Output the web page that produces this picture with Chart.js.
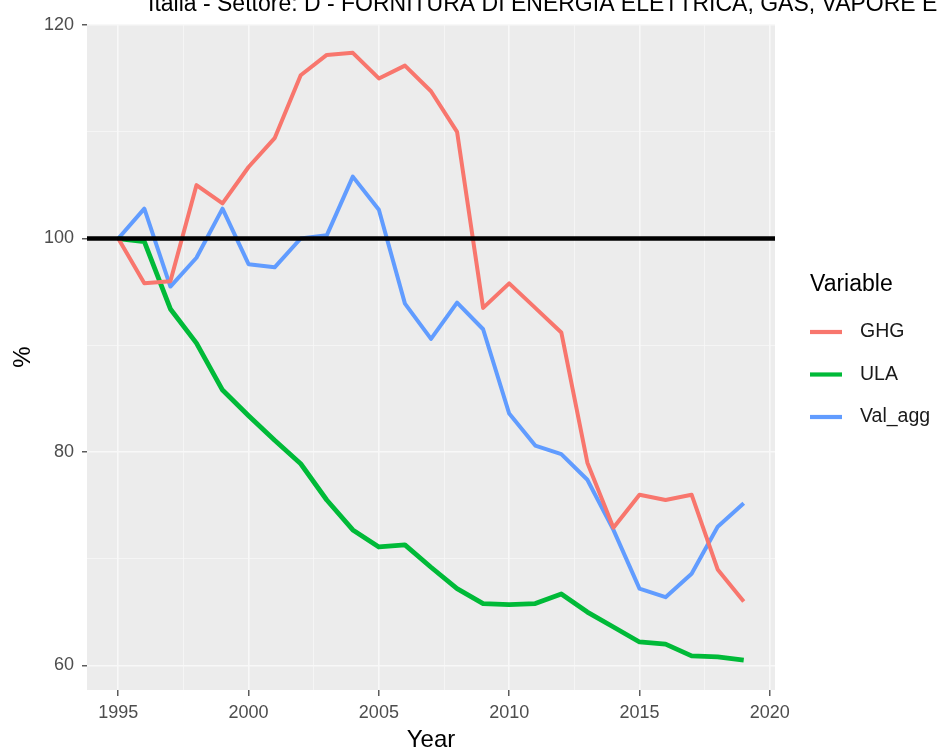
<!DOCTYPE html>
<html>
<head>
<meta charset="utf-8">
<script src="https://cdn.jsdelivr.net/npm/chart.js@4/dist/chart.umd.min.js"></script>
<style>
  html, body { margin: 0; padding: 0; background: #fff; overflow: hidden; }
  #wrap { position: relative; width: 937px; height: 756px; }
</style>
</head>
<body>
<div id="wrap"><canvas id="chart" width="937" height="756"></canvas></div>
<script>
const chartTitle = "Italia - Settore: D - FORNITURA DI ENERGIA ELETTRICA, GAS, VAPORE E ARIA CONDIZIONATA";

const years = [1995, 1996, 1997, 1998, 1999, 2000, 2001, 2002, 2003, 2004, 2005, 2006,
               2007, 2008, 2009, 2010, 2011, 2012, 2013, 2014, 2015, 2016, 2017, 2018, 2019];

// index 1995 = 100
const ghg = [100, 95.8, 96.0, 105.0, 103.3, 106.7, 109.4, 115.3, 117.2, 117.4, 115.0, 116.2,
             113.8, 110.0, 93.5, 95.8, 93.5, 91.2, 79.0, 72.9, 76.0, 75.5, 76.0, 69.0, 66.0];
const ula = [100, 99.7, 93.4, 90.2, 85.8, 83.4, 81.1, 78.9, 75.5, 72.7, 71.1, 71.3,
             69.2, 67.2, 65.8, 65.7, 65.8, 66.7, 65.0, 63.6, 62.2, 62.0, 60.9, 60.8, 60.5];
const valAgg = [100, 102.8, 95.5, 98.2, 102.8, 97.6, 97.3, 100.0, 100.3, 105.8, 102.7, 93.9,
                90.6, 94.0, 91.5, 83.6, 80.6, 79.8, 77.4, 72.7, 67.2, 66.4, 68.6, 73.0, 75.2];

const seriesNames = ["GHG", "ULA", "Val_agg"];
const seriesColors = ["#F8766D", "#00BA38", "#619CFF"];

const xMajor = [1995, 2000, 2005, 2010, 2015, 2020];
const xMinor = [1997.5, 2002.5, 2007.5, 2012.5, 2017.5];
const yMajor = [60, 80, 100, 120];
const yMinor = [70, 90, 110];
const refLevel = 100;

const FONT = "'Liberation Sans', Arial, sans-serif";

function toPoints(values) {
    return years.map((yr, i) => ({ x: yr, y: values[i] }));
}

// grey ggplot panel
const panelBg = {
    id: 'panelBg',
    beforeDraw(chart) {
        const { ctx, chartArea: a } = chart;
        ctx.save();
        ctx.fillStyle = '#ECECEC';
        ctx.fillRect(a.left, a.top, a.right - a.left, a.bottom - a.top);
        ctx.restore();
    }
};

// black horizontal line at 100
const refLine = {
    id: 'refLine',
    afterDatasetsDraw(chart) {
        const { ctx, chartArea: a, scales } = chart;
        const y = scales.y.getPixelForValue(refLevel);
        ctx.save();
        ctx.strokeStyle = '#000';
        ctx.lineWidth = 4.5;
        ctx.beginPath();
        ctx.moveTo(a.left, y);
        ctx.lineTo(a.right, y);
        ctx.stroke();
        ctx.restore();
    }
};

// clipped title + ggplot style legend
const extras = {
    id: 'extras',
    afterDraw(chart) {
        const ctx = chart.ctx;
        ctx.save();
        ctx.fillStyle = '#000';
        ctx.textBaseline = 'alphabetic';
        ctx.textAlign = 'left';
        ctx.font = '23px ' + FONT;
        ctx.fillText(chartTitle, 148, 11);

        ctx.font = '23px ' + FONT;
        ctx.textBaseline = 'middle';
        ctx.fillText('Variable', 810, 285);

        ctx.font = '19.5px ' + FONT;
        chart.data.datasets.forEach((ds, i) => {
            const yy = 332 + i * 42.5;
            ctx.strokeStyle = ds.borderColor;
            ctx.lineWidth = 4.2;
            ctx.beginPath();
            ctx.moveTo(810, yy);
            ctx.lineTo(842, yy);
            ctx.stroke();
            ctx.fillStyle = '#1a1a1a';
            ctx.fillText(ds.label, 860, yy);
        });
        ctx.restore();
    }
};

const datasets = [ghg, ula, valAgg].map((vals, i) => ({
    label: seriesNames[i],
    data: toPoints(vals),
    borderColor: seriesColors[i],
    backgroundColor: seriesColors[i],
    borderWidth: i === 1 ? 4.8 : 4,
    pointRadius: 0,
    tension: 0,
    fill: false,
    borderJoinStyle: 'round',
    borderCapStyle: 'butt'
}));

new Chart(document.getElementById('chart'), {
    type: 'line',
    data: { datasets },
    plugins: [panelBg, refLine, extras],
    options: {
        responsive: false,
        animation: false,
        layout: { padding: { left: 0, right: 162, top: 24, bottom: 0 } },
        plugins: {
            legend: { display: false },
            tooltip: { enabled: false },
            title: { display: false }
        },
        scales: {
            x: {
                type: 'linear',
                min: 1993.8,
                max: 2020.2,
                afterBuildTicks(scale) {
                    scale.ticks = xMajor.concat(xMinor).sort((a, b) => a - b).map(v => ({ value: v }));
                },
                afterFit(scale) { scale.height = 66; },
                border: { display: false },
                grid: {
                    color: '#F8F8F8',
                    lineWidth: ctx => xMajor.includes(ctx.tick && ctx.tick.value) ? 1.6 : 0.8,
                    tickColor: ctx => xMajor.includes(ctx.tick && ctx.tick.value) ? '#333333' : 'rgba(0,0,0,0)',
                    tickLength: 6,
                    tickWidth: 1.2
                },
                ticks: {
                    autoSkip: false,
                    maxRotation: 0,
                    padding: 6,
                    color: '#4D4D4D',
                    font: { size: 18, family: FONT },
                    callback: v => xMajor.includes(v) ? String(v) : ''
                },
                title: {
                    display: true,
                    text: 'Year',
                    color: '#000',
                    font: { size: 24, family: FONT },
                    padding: { top: 0, bottom: 1 }
                }
            },
            y: {
                type: 'linear',
                min: 57.7,
                max: 120.1,
                afterBuildTicks(scale) {
                    scale.ticks = yMajor.concat(yMinor).sort((a, b) => a - b).map(v => ({ value: v }));
                },
                afterFit(scale) { scale.width = 87; },
                border: { display: false },
                grid: {
                    color: '#F8F8F8',
                    lineWidth: ctx => yMajor.includes(ctx.tick && ctx.tick.value) ? 1.6 : 0.8,
                    tickColor: ctx => yMajor.includes(ctx.tick && ctx.tick.value) ? '#333333' : 'rgba(0,0,0,0)',
                    tickLength: 5,
                    tickWidth: 1.2
                },
                ticks: {
                    autoSkip: false,
                    padding: 8,
                    color: '#4D4D4D',
                    font: { size: 18, family: FONT },
                    callback: v => yMajor.includes(v) ? String(v) : ''
                },
                title: {
                    display: true,
                    text: '%',
                    color: '#000',
                    font: { size: 24, family: FONT },
                    padding: { top: 9, bottom: 0 }
                }
            }
        }
    }
});
</script>
</body>
</html>
